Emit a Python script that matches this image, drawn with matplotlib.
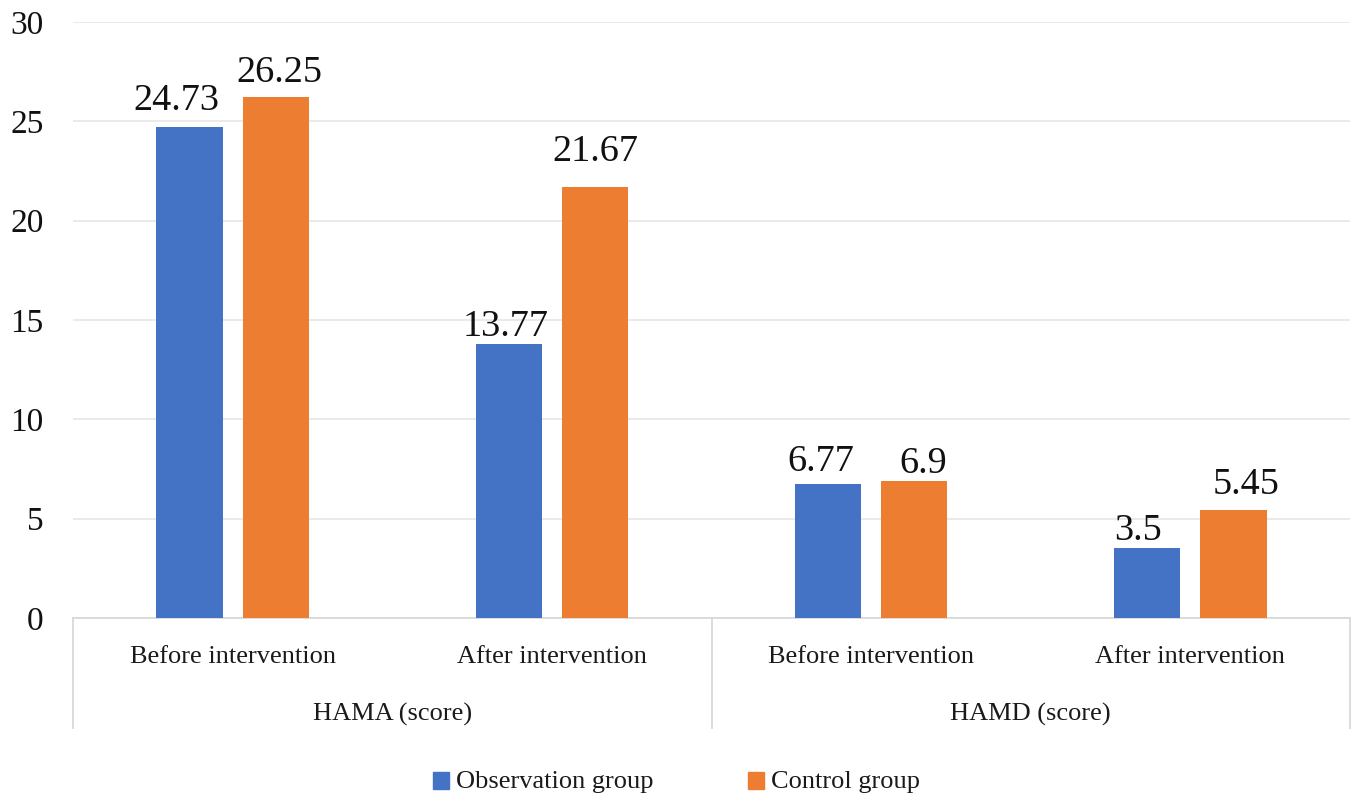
import matplotlib
matplotlib.use("Agg")
import matplotlib.pyplot as plt
import numpy as np
from matplotlib.patches import Rectangle

plt.rcParams['font.family'] = ['Liberation Serif', 'DejaVu Serif']

# Data
scales = ["HAMA (score)", "HAMD (score)"]
phases = ["Before intervention", "After intervention",
          "Before intervention", "After intervention"]
observation = [24.73, 13.77, 6.77, 3.5]
control = [26.25, 21.67, 6.9, 5.45]
series_names = ["Observation group", "Control group"]
colors = ["#4472C4", "#ED7D31"]

# Hand-nudged data label placement (pixels): horizontal shift, gap above bar
obs_label_dx = [-13.5, -3, -7.5, -9]
obs_label_gap = [17, 8.6, 13, 8.3]
ctl_label_dx = [4, 0, 8.5, 12.7]
ctl_label_gap = [14, 26, 8, 16]

W, H = 1357, 796
fig = plt.figure(figsize=(W / 100, H / 100), dpi=100)
left, right, top, bottom = 73, 1350, 22, 618
ax = fig.add_axes([left / W, 1 - bottom / H, (right - left) / W, (bottom - top) / H])

x = np.arange(len(phases))
bw = 0.207
off = 0.135
b1 = ax.bar(x - off, observation, bw, color=colors[0], zorder=3)
b2 = ax.bar(x + off, control, bw, color=colors[1], zorder=3)

for bars, vals, dxs, gaps in ((b1, observation, obs_label_dx, obs_label_gap),
                              (b2, control, ctl_label_dx, ctl_label_gap)):
    for rect, v, dx, g in zip(bars, vals, dxs, gaps):
        ax.annotate(f"{v:g}", (rect.get_x() + rect.get_width() / 2, v),
                    xytext=(dx, g), textcoords="offset pixels",
                    ha="center", va="baseline", fontsize=27.5, color="#111111")

ax.set_xlim(-0.5, len(phases) - 0.5)
ax.set_ylim(0, 30)
ax.set_yticks(np.arange(0, 31, 5))
ax.tick_params(axis='y', length=0, pad=21, labelsize=24, labelcolor="#111111")
ax.yaxis.grid(True, color="#E6E6E6", linewidth=1.2, zorder=0)
ax.set_xticks([])
for s in ("top", "right", "left"):
    ax.spines[s].set_visible(False)
ax.spines["bottom"].set_color("#D9D9D9")
ax.spines["bottom"].set_linewidth(1.3)

ah = bottom - top
tr = ax.get_xaxis_transform()
for xi, lab in zip(x, phases):
    ax.text(xi, -45 / ah, lab, transform=tr, ha="center", va="baseline",
            fontsize=19, color="#1a1a1a")
for gi, name in enumerate(scales):
    ax.text(2 * gi + 0.5, -103 / ah, name, transform=tr, ha="center",
            va="baseline", fontsize=19, color="#1a1a1a")
for xs in (-0.5, 1.5, 3.5):
    ax.plot([xs, xs], [0, -110 / ah], transform=tr, color="#D9D9D9",
            linewidth=1.3, clip_on=False)

# Legend below the category axis
def fx(px):
    return px / W

def fy(py):
    return 1 - py / H

legend_x = [433, 748]
for lx, c, name in zip(legend_x, colors, series_names):
    fig.patches.append(Rectangle((fx(lx), fy(789)), fx(16), 17 / H,
                                 transform=fig.transFigure, color=c))
    fig.text(fx(lx + 23), fy(788), name, ha="left", va="baseline",
             fontsize=19, color="#1a1a1a")

fig.savefig("out.png", dpi=100, facecolor="white")
